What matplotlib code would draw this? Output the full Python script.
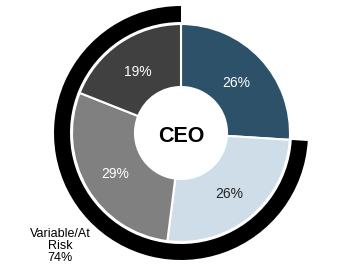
import matplotlib.pyplot as plt
import numpy as np

plt.rcParams['font.family'] = ['Liberation Sans', 'DejaVu Sans']

# pay mix for the CEO (percent)
shares = [26, 26, 29, 19]
share_labels = ["26%", "26%", "29%", "19%"]
slice_colors = ["#2d5169", "#cfdde8", "#808080", "#404040"]
label_colors = ["white", "#222222", "white", "white"]

# outer ring: fixed part left blank, variable / at risk part in black
ring = [26, 74]
ring_text = "Variable/At\nRisk\n74%"

fig = plt.figure(figsize = (3.62, 2.69), dpi = 100)
ax = fig.add_axes([0, 0, 1, 1])

cx, cy = 181, 136

ax.pie(ring,
       colors = ["none", "black"],
       startangle = 90,
       counterclock = False,
       radius = 127,
       center = (cx, cy),
       wedgeprops = dict(width = 16, linewidth = 0))

wedges, texts = ax.pie(shares,
                       colors = slice_colors,
                       startangle = 90,
                       counterclock = False,
                       radius = 109,
                       center = (cx, cy),
                       wedgeprops = dict(width = 63, edgecolor = "white",
                                         linewidth = 1.5))

for i, w in enumerate(wedges):
    ang = np.deg2rad((w.theta1 + w.theta2) / 2)
    ax.text(cx + 76 * np.cos(ang), cy - 2 + 76 * np.sin(ang), share_labels[i],
            ha = "center", va = "center", fontsize = 10,
            color = label_colors[i])

ax.text(cx, cy - 4, "CEO", ha = "center", va = "center",
        fontsize = 15.5, fontweight = "bold", color = "black")

ax.text(60, 23, ring_text, ha = "center", va = "center",
        fontsize = 9, linespacing = 1.05, color = "black")

ax.set_xlim(0, 362)
ax.set_ylim(0, 269)
ax.set_aspect("auto")
ax.axis("off")

fig.savefig("out.png", dpi = 100)
